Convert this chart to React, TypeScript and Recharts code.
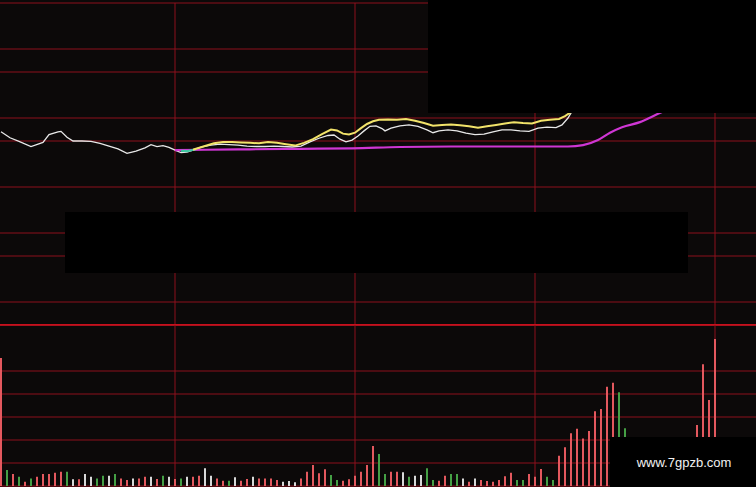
import { Bar, BarChart, CartesianGrid, Cell, Line, LineChart, ReferenceLine, XAxis, YAxis } from "recharts";

// minutes since the open; one session hour = 60
const SESSION_TICKS = [60, 120, 180, 240];
const PRICE_TICKS = [9.3, 9.35, 9.4, 9.45, 9.5, 9.55, 9.6, 9.65, 9.7, 9.75, 9.8, 9.85, 9.9, 9.95, 10.0];
const VOLUME_TICKS = [0, 1000, 2000, 3000, 4000, 5000, 6000, 7000];

// last price (white)
const PRICE_LINE = [
  { t: 2, p: 9.72 }, { t: 5, p: 9.707 }, { t: 8, p: 9.699 }, { t: 12, p: 9.688 }, { t: 16, p: 9.697 },
  { t: 18, p: 9.714 }, { t: 21, p: 9.72 }, { t: 22, p: 9.721 }, { t: 24, p: 9.708 }, { t: 26, p: 9.7 },
  { t: 29, p: 9.7 }, { t: 32, p: 9.699 }, { t: 35, p: 9.695 }, { t: 38, p: 9.689 }, { t: 41, p: 9.683 },
  { t: 44, p: 9.673 }, { t: 47, p: 9.678 }, { t: 50, p: 9.685 }, { t: 52, p: 9.692 }, { t: 54, p: 9.688 },
  { t: 56, p: 9.69 }, { t: 58, p: 9.686 }, { t: 60, p: 9.68 }, { t: 62, p: 9.675 }, { t: 64, p: 9.676 },
  { t: 66, p: 9.68 }, { t: 69, p: 9.687 }, { t: 72, p: 9.691 }, { t: 75, p: 9.693 }, { t: 78, p: 9.692 },
  { t: 81, p: 9.691 }, { t: 84, p: 9.689 }, { t: 87, p: 9.688 }, { t: 90, p: 9.688 }, { t: 93, p: 9.689 },
  { t: 96, p: 9.688 }, { t: 99, p: 9.687 }, { t: 102, p: 9.689 }, { t: 105, p: 9.698 }, { t: 108, p: 9.706 },
  { t: 111, p: 9.712 }, { t: 113, p: 9.713 }, { t: 115, p: 9.704 }, { t: 117, p: 9.698 }, { t: 119, p: 9.702 },
  { t: 121, p: 9.711 }, { t: 123, p: 9.722 }, { t: 125, p: 9.732 }, { t: 127, p: 9.733 }, { t: 129, p: 9.727 },
  { t: 130, p: 9.722 }, { t: 132, p: 9.728 }, { t: 135, p: 9.733 }, { t: 138, p: 9.735 }, { t: 141, p: 9.732 },
  { t: 144, p: 9.724 }, { t: 146, p: 9.718 }, { t: 148, p: 9.722 }, { t: 151, p: 9.724 }, { t: 154, p: 9.722 },
  { t: 157, p: 9.717 }, { t: 160, p: 9.714 }, { t: 163, p: 9.715 }, { t: 166, p: 9.72 }, { t: 169, p: 9.724 },
  { t: 172, p: 9.724 }, { t: 175, p: 9.722 }, { t: 178, p: 9.721 }, { t: 181, p: 9.728 }, { t: 184, p: 9.73 },
  { t: 187, p: 9.729 }, { t: 189, p: 9.735 }, { t: 191, p: 9.75 }, { t: 193, p: 9.772 },
];

// yellow line
const AVG_LINE = [
  { t: 66, p: 9.681 }, { t: 67, p: 9.683 }, { t: 70, p: 9.689 }, { t: 73, p: 9.695 }, { t: 76, p: 9.698 },
  { t: 79, p: 9.698 }, { t: 82, p: 9.697 }, { t: 85, p: 9.696 }, { t: 88, p: 9.695 }, { t: 91, p: 9.698 },
  { t: 94, p: 9.696 }, { t: 97, p: 9.693 }, { t: 100, p: 9.69 }, { t: 103, p: 9.696 }, { t: 106, p: 9.704 },
  { t: 109, p: 9.715 }, { t: 112, p: 9.725 }, { t: 114, p: 9.723 }, { t: 116, p: 9.716 }, { t: 118, p: 9.714 },
  { t: 120, p: 9.718 }, { t: 122, p: 9.728 }, { t: 124, p: 9.737 }, { t: 126, p: 9.743 }, { t: 128, p: 9.746 },
  { t: 131, p: 9.747 }, { t: 134, p: 9.746 }, { t: 137, p: 9.748 }, { t: 140, p: 9.744 }, { t: 143, p: 9.739 },
  { t: 146, p: 9.733 }, { t: 149, p: 9.735 }, { t: 152, p: 9.736 }, { t: 155, p: 9.734 }, { t: 158, p: 9.732 },
  { t: 161, p: 9.729 }, { t: 164, p: 9.732 }, { t: 167, p: 9.735 }, { t: 170, p: 9.738 }, { t: 173, p: 9.741 },
  { t: 176, p: 9.739 }, { t: 179, p: 9.738 }, { t: 182, p: 9.744 }, { t: 185, p: 9.746 }, { t: 188, p: 9.748 },
  { t: 190, p: 9.754 }, { t: 192, p: 9.763 }, { t: 194, p: 9.778 },
];

// short cyan stub where the yellow line starts
const START_STUB = [{ t: 62, p: 9.679 }, { t: 64, p: 9.678 }, { t: 67, p: 9.682 }];

// magenta line
const SLOW_LINE = [
  { t: 60, p: 9.68 }, { t: 70, p: 9.681 }, { t: 85, p: 9.682 }, { t: 102, p: 9.683 }, { t: 119, p: 9.684 },
  { t: 135, p: 9.687 }, { t: 152, p: 9.688 }, { t: 169, p: 9.688 }, { t: 191, p: 9.688 }, { t: 196, p: 9.691 },
  { t: 201, p: 9.702 }, { t: 205, p: 9.718 }, { t: 209, p: 9.73 }, { t: 215, p: 9.741 }, { t: 221, p: 9.759 },
  { t: 226, p: 9.774 },
];

// 2-minute volume bars
const VOLUMES = [
  5570, 700, 520, 400, 190, 330, 400, 520, 520, 580,
  620, 620, 290, 290, 520, 400, 330, 450, 450, 520,
  330, 260, 330, 330, 400, 400, 300, 450, 400, 300,
  330, 400, 400, 450, 770, 450, 330, 230, 230, 380,
  230, 300, 400, 330, 330, 330, 260, 190, 220, 160,
  330, 620, 910, 550, 730, 480, 260, 230, 290, 450,
  620, 910, 1740, 1390, 520, 620, 620, 600, 400, 450,
  480, 770, 260, 230, 450, 520, 520, 330, 190, 330,
  260, 220, 190, 260, 420, 580, 260, 260, 520, 400,
  740, 400, 260, 1320, 1680, 2290, 2490, 2070, 2390, 3250,
  3350, 4320, 4490, 4080, 2510, 1900, 1500, 1200, 1600, 1300,
  1100, 1400, 1700, 1500, 1800, 1600, 2650, 5290, 3740, 6390,
];
// u = up (red), d = down (green), f = flat (white)
const MOVES =
  "udududuuuu" + "udfuffddfd" + "uufuufudfu" + "dfuuffuudf" + "uufuuuufff" + "uuuuudduuu" +
  "uuudduufdf" + "fdduuddfuf" + "uuuuuudduu" + "udduuuuuuu" + "uuuddudufu" + "duuduuuuuu";

const MOVE_COLORS: Record<string, string> = { u: "#e4585e", d: "#45a045", f: "#d8d8d8" };
const GRID = "#8c111c";

const volumeRows = VOLUMES.map((v, i) => ({ t: 2 + 2 * i, v, move: MOVES[i] }));

export default function App() {
  return (
    <div
      style={{
        position: "absolute",
        left: 0,
        top: 0,
        width: 756,
        height: 487,
        overflow: "hidden",
        background: "#0c0909",
        fontFamily: "'Liberation Sans', Arial, sans-serif",
      }}
    >
      <div style={{ position: "absolute", left: -5, top: 0 }}>
        <LineChart width={765} height={326} margin={{ top: 3, right: 0, bottom: 1, left: 0 }}>
          <CartesianGrid stroke={GRID} strokeWidth={1} />
          <XAxis type="number" dataKey="t" domain={[0, 255]} ticks={SESSION_TICKS} allowDataOverflow hide />
          <YAxis type="number" domain={[9.3, 10]} ticks={PRICE_TICKS} allowDataOverflow hide />
          <Line data={PRICE_LINE} dataKey="p" type="linear" stroke="#e8e8e8" strokeWidth={1.3} dot={false} isAnimationActive={false} />
          <Line data={SLOW_LINE} dataKey="p" type="monotone" stroke="#cf36d4" strokeWidth={2.2} dot={false} isAnimationActive={false} />
          <Line data={START_STUB} dataKey="p" type="linear" stroke="#3fc9a2" strokeWidth={2} dot={false} isAnimationActive={false} />
          <Line data={AVG_LINE} dataKey="p" type="linear" stroke="#f2e36a" strokeWidth={2} dot={false} isAnimationActive={false} />
          <ReferenceLine y={9.3} stroke="#c8101c" strokeWidth={2} />
        </LineChart>
      </div>

      <div style={{ position: "absolute", left: -5, top: 325 }}>
        <BarChart width={765} height={162} data={volumeRows} margin={{ top: 0, right: 0, bottom: 1, left: 0 }}>
          <CartesianGrid stroke={GRID} strokeWidth={1} />
          <XAxis type="number" dataKey="t" domain={[0, 255]} ticks={SESSION_TICKS} allowDataOverflow hide />
          <YAxis type="number" domain={[0, 7000]} ticks={VOLUME_TICKS} allowDataOverflow hide />
          <Bar dataKey="v" barSize={2} isAnimationActive={false}>
            {volumeRows.map((row) => (
              <Cell key={row.t} fill={MOVE_COLORS[row.move]} />
            ))}
          </Bar>
        </BarChart>
      </div>

      {/* black patches that cover parts of the source screenshot */}
      <div style={{ position: "absolute", left: 428, top: 0, width: 328, height: 113, background: "#000" }} />
      <div style={{ position: "absolute", left: 65, top: 212, width: 623, height: 61, background: "#000" }} />
      <div
        style={{
          position: "absolute",
          left: 610,
          top: 437,
          width: 146,
          height: 50,
          background: "#000",
          color: "#f2f2f2",
          fontSize: 13,
          display: "flex",
          alignItems: "center",
          justifyContent: "center",
          paddingLeft: 2,
          boxSizing: "border-box",
        }}
      >
        www.7gpzb.com
      </div>
    </div>
  );
}
